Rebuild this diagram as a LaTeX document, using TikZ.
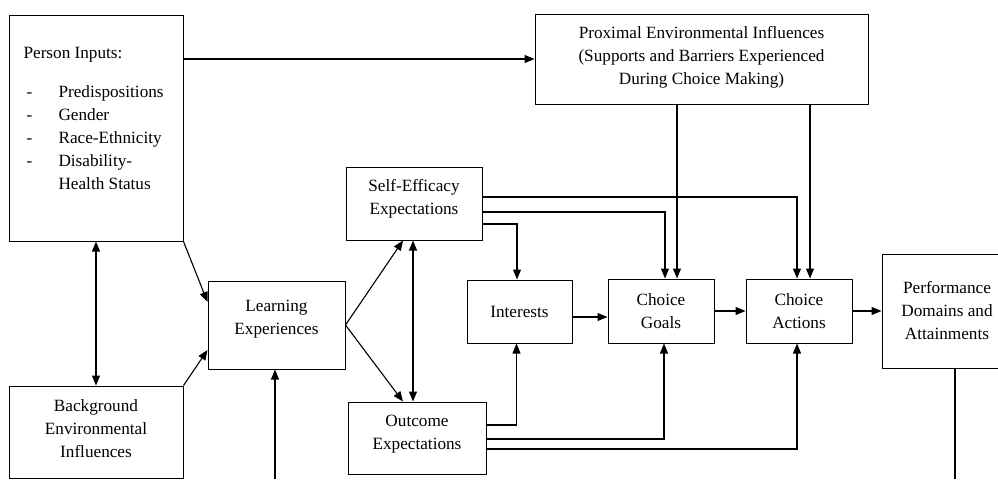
\documentclass[tikz,border=0pt]{standalone}
\usepackage{fontspec}
\setmainfont{Liberation Serif}
\usetikzlibrary{arrows.meta}

\begin{document}
\begin{tikzpicture}[x=1pt, y=-1pt, line width=1.1pt,
	box/.style={draw, line width=1pt, inner sep=0pt, align=center, font=\fontsize{17.2}{23}\selectfont},
	>={Triangle[length=10pt, width=8pt]}]
				\useasboundingbox (0, 0) rectangle (998, 479);
				\node[box, minimum width=174, minimum height=226] (person) at (96, 128) {};
				\node[anchor=north west, align=left, inner sep=0pt, font=\fontsize{17.2}{23}\selectfont] (personlist) at (23, 47)
					{Person Inputs:\\[16pt]
					\hspace*{3pt}\makebox[32pt][l]{-}Predispositions\\
					\hspace*{3pt}\makebox[32pt][l]{-}Gender\\
					\hspace*{3pt}\makebox[32pt][l]{-}Race-Ethnicity\\
					\hspace*{3pt}\makebox[32pt][l]{-}Disability-\\
					\hspace*{35pt}Health Status};
				\node[box, minimum width=174, minimum height=92, text depth=7pt] (bg) at (96, 432) {Background\\Environmental\\Influences};
				\node[box, minimum width=137, minimum height=88, text depth=15.5pt] (learn) at (276.5, 325) {Learning\\Experiences};
				\node[box, minimum width=136, minimum height=73, text depth=12.5pt] (selfeff) at (414, 203.5) {Self-Efficacy\\Expectations};
				\node[box, minimum width=138, minimum height=72, text depth=11.5pt] (outcome) at (417, 438) {Outcome\\Expectations};
				\node[box, minimum width=105, minimum height=63] (interests) at (519.5, 311.5) {Interests};
				\node[box, minimum width=106, minimum height=64] (goals) at (661, 311) {Choice\\Goals};
				\node[box, minimum width=106, minimum height=64] (actions) at (799, 311) {Choice\\Actions};
				\node[box, minimum width=130, minimum height=114] (perf) at (947, 311) {Performance\\Domains and\\Attainments};
				\node[box, minimum width=333, minimum height=90, text depth=8pt] (prox) at (701.5, 59)
					{Proximal Environmental Influences\\(Supports and Barriers Experienced\\During Choice Making)};
				\coordinate (learnin) at (275, 479);
				\coordinate (perfout) at (955, 479);
				\coordinate (goalsprox) at ([xshift=16pt]goals.north);
				\coordinate (actionsprox) at ([xshift=11pt]actions.north);
				\coordinate (interestsout) at ([yshift=-5.5pt]interests.east);
				\draw[->] (person.east |- prox.west) -- (prox.west);
				\draw[<->] (person) -- (bg);
				\draw[->] (person.south east) -- ([yshift=23pt]learn.west);
				\draw[->] (bg.north east) -- ([yshift=-25pt]learn.west);
				\draw[->] (learnin) -- (learnin |- learn.south);
				\draw[->] (learn.east) -- ([xshift=-11pt]selfeff.south);
				\draw[->] (learn.east) -- ([xshift=-14pt]outcome.north);
				\draw[<->] ([xshift=-1pt]selfeff.south) -- ([xshift=-1pt]selfeff.south |- outcome.north);
				\draw[->] ([yshift=-20.5pt]selfeff.east) -| ([xshift=-2.5pt]interests.north);
				\draw[->] ([yshift=-8.5pt]selfeff.east) -| ([xshift=4pt]goals.north);
				\draw[->] ([yshift=6.5pt]selfeff.east) -| ([xshift=-2pt]actions.north);
				\draw[->] (goalsprox |- prox.south) -- (goalsprox);
				\draw[->] (actionsprox |- prox.south) -- (actionsprox);
				\draw[->] ([yshift=13pt]outcome.east) -| ([xshift=-3pt]interests.south);
				\draw[->] ([yshift=-1pt]outcome.east) -| ([xshift=3pt]goals.south);
				\draw[->] ([yshift=-11pt]outcome.east) -| ([xshift=-2pt]actions.south);
				\draw[->] (interestsout) -- (interestsout -| goals.west);
				\draw[->] (goals) -- (actions);
				\draw[->] (actions.east) -- (actions.east -| perf.west);
				\draw (perfout |- perf.south) -- (perfout);
			\end{tikzpicture}
\end{document}
